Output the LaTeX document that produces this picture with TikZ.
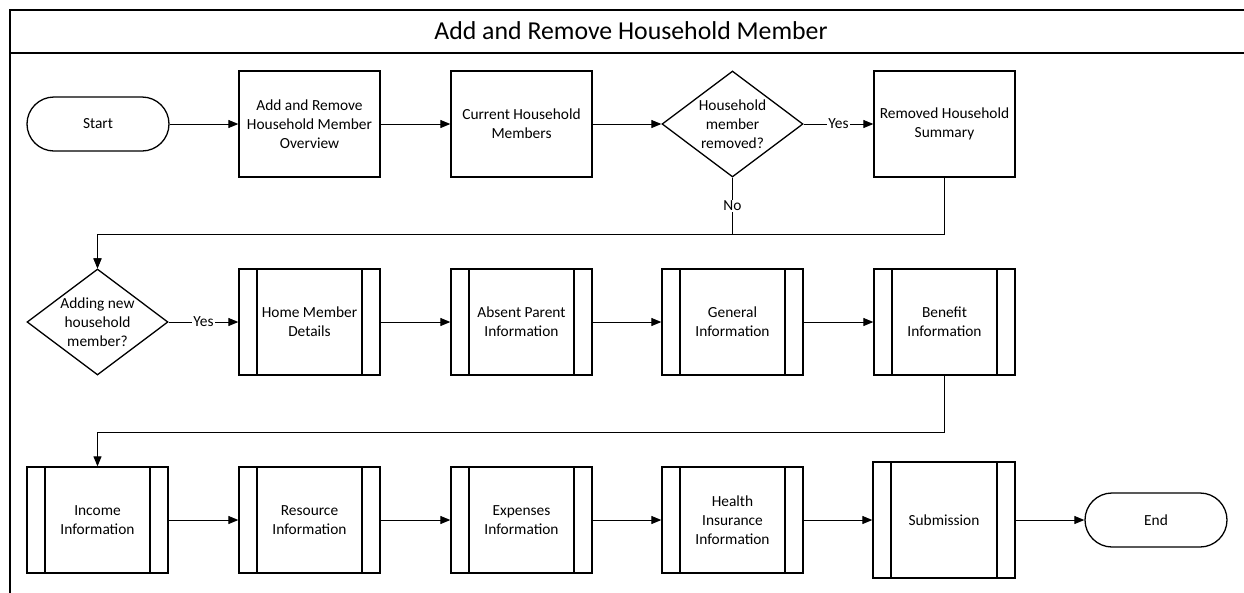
\documentclass[tikz,border=0pt]{standalone}
\usepackage{fontspec}
\setmainfont{Carlito}
\usetikzlibrary{shapes.geometric,arrows.meta}

\tikzset{
  base/.style={draw=black, line width=1.3pt, fill=white, align=center,
    font=\fontsize{15.4}{19}\selectfont, inner sep=2pt},
  terminal/.style={base, rectangle, rounded corners=27pt,
    minimum width=142pt, minimum height=54pt},
  process/.style={base, rectangle, minimum width=141pt, minimum height=106pt},
  subproc/.style={process,
    path picture={
      \draw[line width=1.3pt]
        ([xshift=18pt]path picture bounding box.north west) --
        ([xshift=18pt]path picture bounding box.south west)
        ([xshift=-18pt]path picture bounding box.north east) --
        ([xshift=-18pt]path picture bounding box.south east);
    }},
  decision/.style={base, diamond, inner sep=0pt,
    minimum width=141pt, minimum height=106pt},
  dtext/.style={align=center, font=\fontsize{15.4}{19}\selectfont, inner sep=0pt},
  conn/.style={draw=black, line width=1pt,
    -{Triangle[length=10pt,width=8pt]}},
  lbl/.style={fill=white, inner sep=1pt, font=\fontsize{15.4}{19}\selectfont},
  frame/.style={draw=black, line width=1.4pt}
}

\begin{document}
\begin{tikzpicture}[x=1pt, y=-1pt]
  \useasboundingbox (0,0) rectangle (1244,592);

  % pool frame with title band
  \draw[frame] (1250,10) -- (10,10) -- (10,600);
  \draw[frame] (10,53) -- (1250,53);
  \node[font=\fontsize{25.8}{30}\selectfont] (title) at (631,31)
    {Add and Remove Household Member};

  % first row
  \node[terminal] (start) at (98,124) {Start};
  \node[process] (overview) at (309.5,124) {Add and Remove\\Household Member\\Overview};
  \node[process] (current) at (521.5,124) {Current Household\\Members};
  \node[decision,
    label={[dtext]center:Household\\member\\removed?}] (removed) at (732.5,124) {};
  \node[process] (summary) at (944.5,124) {Removed Household\\Summary};

  % second row
  \node[decision,
    label={[dtext]center:Adding new\\household\\member?}] (adding) at (97.5,322) {};
  \node[subproc] (home) at (309.5,322) {Home Member\\Details};
  \node[subproc] (absent) at (521.5,322) {Absent Parent\\Information};
  \node[subproc] (general) at (732.5,322) {General\\Information};
  \node[subproc] (benefit) at (944.5,322) {Benefit\\Information};

  % third row
  \node[subproc] (income) at (97.5,520) {Income\\Information};
  \node[subproc] (resource) at (309.5,520) {Resource\\Information};
  \node[subproc] (expenses) at (521.5,520) {Expenses\\Information};
  \node[subproc] (health) at (732.5,520) {Health\\Insurance\\Information};
  \node[subproc, minimum width=142pt, minimum height=116pt] (submit) at (944,520) {Submission};
  \node[terminal] (end) at (1156,520) {End};

  % routing levels for the return lines
  \coordinate (lane1) at (0,234);
  \coordinate (lane2) at (0,432);

  % connectors, first row
  \draw[conn] (start) -- (overview);
  \draw[conn] (overview) -- (current);
  \draw[conn] (current) -- (removed);
  \draw[conn] (removed.east) -- node[lbl]{Yes} (summary);
  \draw[conn] (removed.south) -- node[lbl]{No} (removed.south |- lane1) -| (adding.north);
  \draw[conn] (summary.south) -- (summary.south |- lane1) -| (adding.north);

  % connectors, second row
  \draw[conn] (adding.east) -- node[lbl]{Yes} (home);
  \draw[conn] (home) -- (absent);
  \draw[conn] (absent) -- (general);
  \draw[conn] (general) -- (benefit);
  \draw[conn] (benefit.south) -- (benefit.south |- lane2) -| (income.north);

  % connectors, third row
  \draw[conn] (income) -- (resource);
  \draw[conn] (resource) -- (expenses);
  \draw[conn] (expenses) -- (health);
  \draw[conn] (health) -- (submit);
  \draw[conn] (submit) -- (end);
\end{tikzpicture}
\end{document}
